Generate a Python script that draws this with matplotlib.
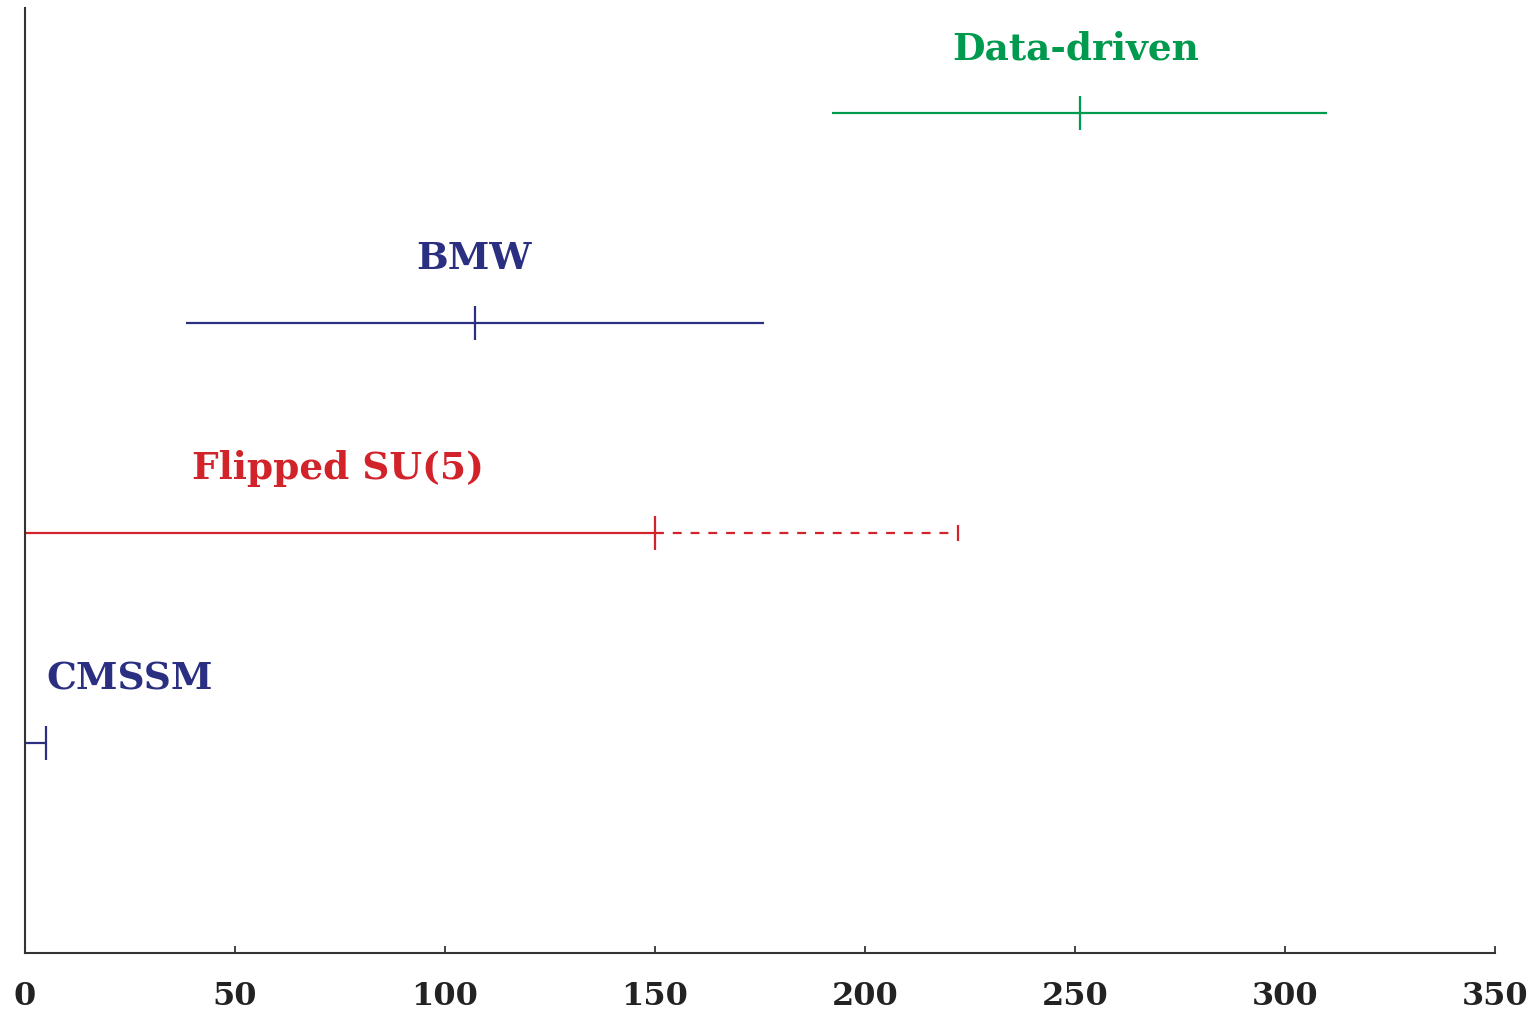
import numpy as np
import matplotlib.pyplot as plt

# mass ranges per model: lower end, central value, upper end
models = ['CMSSM', 'Flipped SU(5)', 'BMW', 'Data-driven']
rows = [1, 2, 3, 4]
lo = [0, 0, 38.3, 192.1]
mid = [5, 150, 107.1, 251.2]
hi = [5, 150, 176, 310]
ext = [None, 222.1, None, None]   # dashed extension beyond the upper end
label_x = [25, 74.5, 107, 250.2]
colors = ['#2b2f82', '#d2232a', '#2b2f82', '#009a4e']

font = 'DejaVu Serif'
plt.rcParams['font.family'] = font
plt.rcParams['font.weight'] = 'bold'

fig = plt.figure(figsize=(15.38, 10.16), dpi=100)
ax = fig.add_axes([25 / 1538, 63 / 1016, 1470 / 1538, 945 / 1016])

for i in range(len(models)):
    y = rows[i]
    c = colors[i]
    ax.plot([lo[i], hi[i]], [y, y], color=c, lw=1.6, solid_capstyle='butt')
    ax.plot([mid[i]], [y], marker='|', markersize=24, markeredgewidth=1.6, color=c)
    if ext[i] is not None:
        ax.plot([hi[i], ext[i]], [y, y], color=c, lw=1.6, linestyle=(0, (4, 4)))
        ax.plot([ext[i]], [y], marker='|', markersize=12, markeredgewidth=1.6, color=c)
    ax.text(label_x[i], y + 0.305, models[i], color=c, fontsize=27,
            fontweight='bold', ha='center', va='center')

ax.set_xlim(0, 350)
ax.set_ylim(0, 4.5)
ax.set_xticks(np.arange(0, 351, 50))
ax.set_yticks([])
ax.tick_params(axis='x', direction='in', length=5, width=1.2, pad=20,
               labelsize=23, colors='#222222')
for lbl in ax.get_xticklabels():
    lbl.set_fontweight('bold')
ax.spines['top'].set_visible(False)
ax.spines['right'].set_visible(False)
for s in ['left', 'bottom']:
    ax.spines[s].set_linewidth(1.5)
    ax.spines[s].set_color('#333333')

fig.savefig('out.png', dpi=100)
